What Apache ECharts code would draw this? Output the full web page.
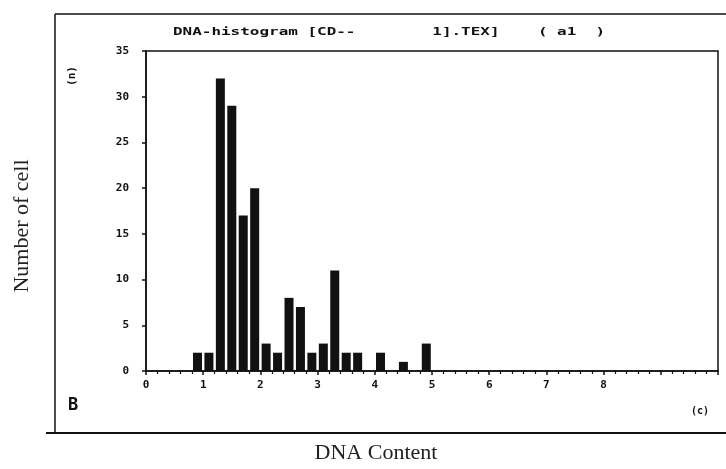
<!DOCTYPE html>
<html>
<head>
<meta charset="utf-8">
<script src="https://cdn.jsdelivr.net/npm/echarts@6/dist/echarts.min.js"></script>
<style>
  html, body { margin: 0; padding: 0; background: #fff; }
  #chart { width: 726px; height: 469px; }
</style>
</head>
<body>
<div id="chart"></div>
<script>
// DNA content bins (bar centres) and cell counts
const dnaContent = [0.9, 1.1, 1.3, 1.5, 1.7, 1.9, 2.1, 2.3, 2.5, 2.7, 2.9, 3.1, 3.3, 3.5, 3.7, 4.1, 4.5, 4.9];
const cellCount = [2, 2, 32, 29, 17, 20, 3, 2, 8, 7, 2, 3, 11, 2, 2, 2, 1, 3];
const xTickLabels = ["0", "1", "2", "3", "4", "5", "6", "7", "8"];
const yTickLabels = ["0", "5", "10", "15", "20", "25", "30", "35"];

const ink = "#111";
const monoFont = "DejaVu Sans Mono";
const serifFont = "Liberation Serif";

const chart = echarts.init(document.getElementById("chart"), null, { renderer: "canvas" });

chart.setOption({
  animation: false,
  backgroundColor: "#fff",
  grid: {
    left: 146,
    right: 8,
    top: 51,
    bottom: 98,
    show: true,
    borderColor: ink,
    borderWidth: 1.5,
    backgroundColor: "transparent",
  },
  xAxis: {
    type: "value",
    min: 0,
    max: 10,
    interval: 1,
    axisLine: { lineStyle: { color: ink, width: 1.5 } },
    axisTick: { show: true, length: 4, lineStyle: { color: ink, width: 1.5 } },
    minorTick: { show: true, splitNumber: 5, length: 3, lineStyle: { color: ink, width: 1.2 } },
    splitLine: { show: false },
    minorSplitLine: { show: false },
    axisLabel: {
      color: ink,
      fontFamily: monoFont,
      fontWeight: "bold",
      fontSize: 11,
      margin: 9,
      formatter: (v) => xTickLabels[v] ?? "",
    },
  },
  yAxis: {
    type: "value",
    min: 0,
    max: 35,
    interval: 5,
    axisLine: { show: true, lineStyle: { color: ink, width: 1.5 } },
    axisTick: { show: true, length: 4, lineStyle: { color: ink, width: 1.5 } },
    splitLine: { show: false },
    axisLabel: {
      color: ink,
      fontFamily: monoFont,
      fontWeight: "bold",
      fontSize: 11,
      margin: 17,
      formatter: (v) => yTickLabels[v / 5] ?? "",
    },
  },
  series: [
    {
      type: "bar",
      data: dnaContent.map((x, i) => [x, cellCount[i]]),
      barWidth: 9,
      itemStyle: { color: ink },
    },
  ],
  graphic: [
    // outer frame of the figure panel
    { type: "line", shape: { x1: 55, y1: 14, x2: 726, y2: 14 }, style: { stroke: ink, lineWidth: 1.5 } },
    { type: "line", shape: { x1: 55, y1: 14, x2: 55, y2: 433 }, style: { stroke: ink, lineWidth: 1.5 } },
    { type: "line", shape: { x1: 46, y1: 433, x2: 726, y2: 433 }, style: { stroke: ink, lineWidth: 2 } },
    {
      type: "text",
      x: 173,
      y: 32,
      scaleX: 1.45,
      style: {
        text: "DNA-histogram [CD--        1].TEX]    ( a1  )",
        fill: ink,
        font: `bold 11px "${monoFont}"`,
        textAlign: "left",
        textVerticalAlign: "middle",
      },
    },
    {
      type: "text",
      x: 72,
      y: 76,
      rotation: Math.PI / 2,
      style: {
        text: "(n)",
        fill: ink,
        font: `bold 11px "${monoFont}"`,
        textAlign: "center",
        textVerticalAlign: "middle",
      },
    },
    {
      type: "text",
      x: 73,
      y: 406,
      style: {
        text: "B",
        fill: ink,
        font: `bold 17px "${monoFont}"`,
        textAlign: "center",
        textVerticalAlign: "middle",
      },
    },
    {
      type: "text",
      x: 700,
      y: 411,
      style: {
        text: "(c)",
        fill: ink,
        font: `bold 10px "${monoFont}"`,
        textAlign: "center",
        textVerticalAlign: "middle",
      },
    },
    {
      type: "text",
      x: 22,
      y: 226,
      rotation: Math.PI / 2,
      style: {
        text: "Number of cell",
        fill: "#222",
        font: `22px "${serifFont}"`,
        textAlign: "center",
        textVerticalAlign: "middle",
      },
    },
    {
      type: "text",
      x: 376,
      y: 453,
      style: {
        text: "DNA Content",
        fill: "#222",
        font: `22px "${serifFont}"`,
        textAlign: "center",
        textVerticalAlign: "middle",
      },
    },
  ],
});
</script>
</body>
</html>
